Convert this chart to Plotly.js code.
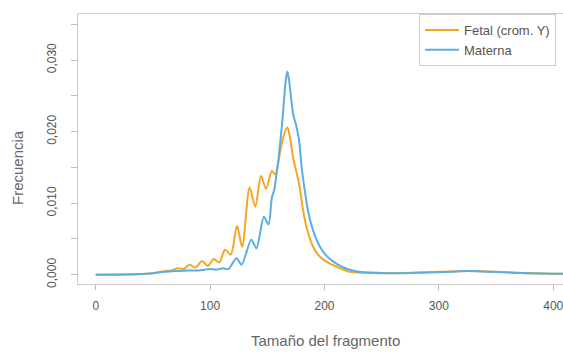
<!DOCTYPE html>
<html>
<head>
<meta charset="utf-8">
<script src="https://cdn.plot.ly/plotly-3.0.1.min.js"></script>
<style>html,body{margin:0;padding:0;background:#fff;}#chart{width:563px;height:352px;}</style>
</head>
<body>
<div id="chart"></div>
<script>
var fetalX = [0,20,40,50,60,66,72,77,82,87,93,98,103,108,113,118,123.5,128,134.5,139.5,144.5,149,154,157,161,164,167.5,170,173,176,178,181.5,185,190,196,202,208,215,222,230,250,280,300,325,350,380,420];
var fetalY = [0,0,0.0001,0.0002,0.0005,0.0006,0.0009,0.0008,0.0014,0.0010,0.0019,0.0012,0.0022,0.0017,0.0035,0.0028,0.0068,0.0039,0.0122,0.0095,0.0138,0.0120,0.0145,0.0140,0.0170,0.0192,0.0206,0.0190,0.0160,0.0140,0.0125,0.0088,0.0062,0.0039,0.0025,0.0018,0.0013,0.0008,0.0004,0.0003,0.0002,0.0003,0.0004,0.0005,0.0004,0.0002,0.0001];
var maternaX = [0,40,50,60,70,80,90,100,105,111,116,123,127.5,136,140.5,147,151,154,156,158,160,163.5,166,167.5,169,172.5,175.5,178,180,183,186,190,196,202,208,214,222,230,240,260,290,310,325,345,380,420];
var maternaY = [0,0.0001,0.0002,0.0004,0.0005,0.0006,0.0006,0.0008,0.0007,0.0009,0.0008,0.0023,0.0014,0.0049,0.0037,0.0081,0.0070,0.0108,0.0118,0.0140,0.0165,0.0221,0.0270,0.0284,0.0272,0.0225,0.0207,0.0185,0.0150,0.0115,0.0086,0.0062,0.0039,0.0026,0.0018,0.0012,0.0007,0.0004,0.0003,0.0002,0.0003,0.0004,0.0005,0.0004,0.0002,0.0001];
var yTickVals = [0,0.005,0.010,0.015,0.020,0.025,0.030,0.035];
var yTickText = ['0,000','','0,010','','0,020','','0,030',''];
var xTickVals = [0,100,200,300,400];
var xTickText = ['0','100','200','300','400'];
var seriesNames = ['Fetal (crom. Y)','Materna'];

var traces = [
  {x: fetalX, y: fetalY, name: seriesNames[0], type:'scatter', mode:'lines',
   line:{color:'#f5a623', width:2, shape:'spline', smoothing:0.8}},
  {x: maternaX, y: maternaY, name: seriesNames[1], type:'scatter', mode:'lines',
   line:{color:'#5aaee2', width:2, shape:'spline', smoothing:0.8}}
];
var font = {family:'"Liberation Sans", Arial, sans-serif', color:'#555', size:12};
var layout = {
  width:563, height:352,
  margin:{l:78, r:0, t:14, b:68},
  paper_bgcolor:'#fff', plot_bgcolor:'#fff',
  font: font,
  showlegend:true,
  legend:{x:0.703, y:1, xanchor:'left', yanchor:'top', bordercolor:'#cccccc', borderwidth:1,
          bgcolor:'#fff', font:{family:font.family, size:13, color:'#555'}, itemwidth:34,
          tracegroupgap:0},
  xaxis:{range:[-15.5,408.5], tickvals:xTickVals, ticktext:xTickText, ticks:'outside', ticklen:5,
         tickcolor:'#bbb', showgrid:false, zeroline:false, showline:true, linecolor:'#cccccc',
         mirror:true, tickfont:{size:12, color:'#555'}, ticklabeloverflow:'allow', ticklabelstandoff:6},
  yaxis:{range:[-0.0013,0.03644], tickvals:yTickVals, ticktext:yTickText, ticks:'outside', ticklen:6,
         tickcolor:'#bbb', showgrid:false, zeroline:false, showline:true, linecolor:'#cccccc',
         mirror:true, tickangle:-90, tickfont:{size:12, color:'#555'}, ticklabelstandoff:10},
  annotations:[
    {text:'Tamaño del fragmento', xref:'paper', yref:'paper', x:(325-78)/485, y:-(330-284)/270,
     xanchor:'center', yanchor:'top', showarrow:false, font:{size:15, color:'#666'}},
    {text:'Frecuencia', xref:'paper', yref:'paper', x:-(78-17)/485, y:(284-168)/270,
     xanchor:'center', yanchor:'middle', showarrow:false, textangle:-90, font:{size:15, color:'#666'}}
  ]
};
Plotly.newPlot('chart', traces, layout, {displayModeBar:false, staticPlot:true});
</script>
</body>
</html>
